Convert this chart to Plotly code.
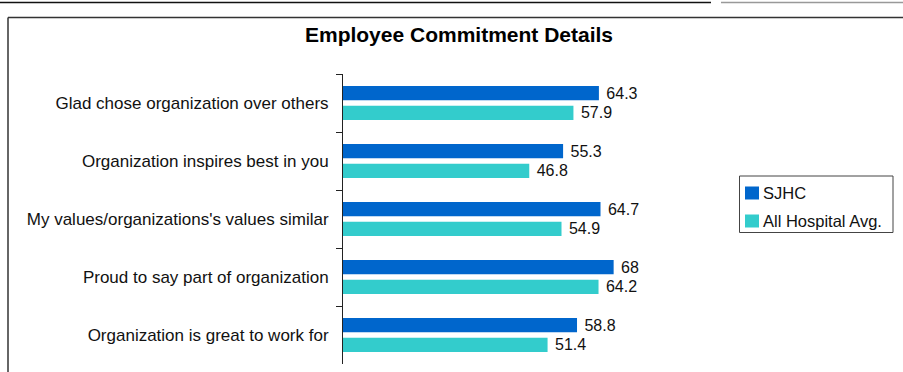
import plotly.graph_objects as go

# Survey items, listed top to bottom
categories = [
    "Glad chose organization over others",
    "Organization inspires best in you",
    "My values/organizations's values similar",
    "Proud to say part of organization",
    "Organization is great to work for",
]
sjhc = [64.3, 55.3, 64.7, 68, 58.8]
all_hospital = [57.9, 46.8, 54.9, 64.2, 51.4]
series_names = ["SJHC", "All Hospital Avg."]
series_colors = ["#0066CC", "#33CCCC"]

FONT = "Liberation Sans, Arial"
W, H = 903, 372
L, R, T, B = 343, 741, 74, 364  # plot area edges in pixels


def px_x(x):
    return (x - L) / (R - L)


def px_y(y):
    return (B - y) / (B - T)


fig = go.Figure()
for name, vals, color in zip(series_names, [sjhc, all_hospital], series_colors):
    fig.add_trace(go.Bar(
        y=categories, x=vals, name=name, orientation="h",
        marker=dict(color=color, line=dict(width=0)),
        texttemplate="\u00a0%{x}", textposition="outside",
        constraintext="none",
        textfont=dict(family=FONT, size=16, color="#111"),
        cliponaxis=False, showlegend=False,
    ))

shapes = [
    # chart frame
    dict(type="line", xref="paper", yref="paper", x0=px_x(8), x1=px_x(905),
         y0=px_y(17.5), y1=px_y(17.5), line=dict(color="#333", width=1.5)),
    dict(type="line", xref="paper", yref="paper", x0=px_x(8), x1=px_x(8),
         y0=px_y(17.5), y1=px_y(380), line=dict(color="#333", width=1.5)),
    # page rules above the chart
    dict(type="line", xref="paper", yref="paper", x0=px_x(0), x1=px_x(711),
         y0=px_y(2.5), y1=px_y(2.5), line=dict(color="#111", width=1.5)),
    dict(type="line", xref="paper", yref="paper", x0=px_x(721), x1=px_x(905),
         y0=px_y(2.5), y1=px_y(2.5), line=dict(color="#999", width=1.5)),
    # legend box
    dict(type="rect", xref="paper", yref="paper", x0=px_x(739.5), x1=px_x(893),
         y0=px_y(176), y1=px_y(232.5), line=dict(color="#444", width=1),
         fillcolor="white"),
]

annotations = []
legend_rows = [193, 221]
for name, color, yc in zip(series_names, series_colors, legend_rows):
    shapes.append(dict(type="rect", xref="paper", yref="paper",
                       x0=px_x(745), x1=px_x(759), y0=px_y(yc - 6.5), y1=px_y(yc + 6.5),
                       line=dict(width=0), fillcolor=color))
    annotations.append(dict(text=name, xref="paper", yref="paper",
                            x=px_x(761), y=px_y(yc), xanchor="left", yanchor="middle",
                            showarrow=False,
                            font=dict(family=FONT, size=16.5, color="#111")))

fig.update_layout(
    width=W, height=H,
    margin=dict(l=L, r=W - R, t=T, b=H - B, autoexpand=False),
    paper_bgcolor="white", plot_bgcolor="white",
    barmode="group", bargap=0.32, bargroupgap=0.27,
    font=dict(family=FONT, size=16, color="#111"),
    title=dict(text="<b>Employee Commitment Details</b>", x=459 / W, xanchor="center",
               y=1 - 35 / H, yanchor="middle",
               font=dict(family=FONT, size=21, color="#000")),
    xaxis=dict(range=[0, 100], visible=False, fixedrange=True),
    yaxis=dict(autorange="reversed", showline=True, linecolor="#222", linewidth=1,
               ticks="outside", ticklen=6, tickcolor="#222", tickson="boundaries",
               showgrid=False, ticklabelstandoff=10,
               tickfont=dict(family=FONT, size=17, color="#111")),
    showlegend=False,
    shapes=shapes,
    annotations=annotations,
)

fig.write_html("out.html")
